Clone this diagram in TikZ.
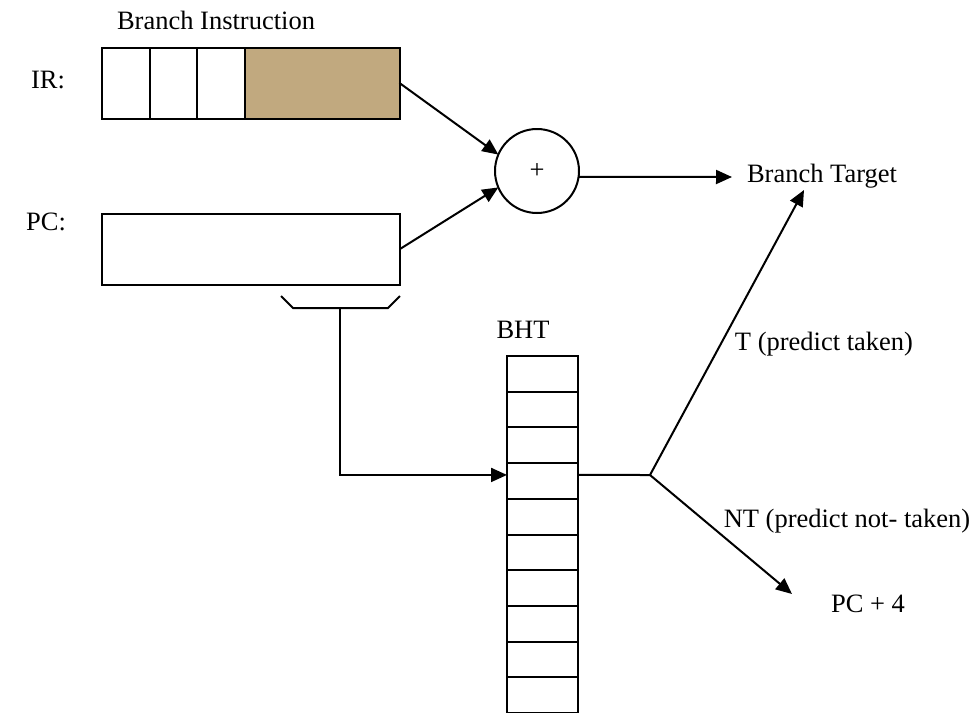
\documentclass[tikz,border=0pt]{standalone}
\usepackage{fontspec}
\setmainfont{Liberation Serif}
\usetikzlibrary{arrows.meta,positioning}
\definecolor{brtan}{HTML}{C1A97F}
\begin{document}
\begin{tikzpicture}[x=0.5pt,y=-0.5pt,inner sep=0pt,outer sep=0pt,line width=1pt,
font=\fontsize{13.25}{15}\selectfont,
>={Triangle[length=8pt,width=7pt]},
irfield/.style={draw,rectangle,minimum width=23.75pt,minimum height=35.5pt},
reg/.style={draw,rectangle,minimum width=149pt,minimum height=35.5pt},
bhtcell/.style={draw,rectangle,minimum width=35.5pt,minimum height=17.85pt}]
\useasboundingbox (0,0) rectangle (976,713);
% instruction register
\node[irfield] (ir1) at (125.75,83) {};
\node[irfield,right=0pt of ir1] (ir2) {};
\node[irfield,right=0pt of ir2] (ir3) {};
\node[irfield,fill=brtan,minimum width=77.5pt,right=0pt of ir3] (ir4) {};
\node (brinst) at (216,20) {Branch Instruction};
\node (irlbl) at (48,80) {IR:};
% program counter
\node[reg] (pc) at (251,249) {};
\node (pclbl) at (46,222) {PC:};
% adder
\node[draw,circle,minimum size=42pt] (sum) at (537,171) {+};
\draw[->] (ir4.east) -- (sum.157);
\draw[->] (pc.east) -- (sum.203);
\node (tgt) at (822,176) {Branch Target};
\coordinate (tgtin) at (732,177);
\draw[->] (sum.-8) -- (tgtin);
% branch history table
\foreach \i in {1,...,10}
  \node[bhtcell] (bht\i) at (542.5,{338.15+35.7*\i}) {};
\node (bhtlbl) at (523,330) {BHT};
\draw (281,296) -- (293,308) -- (388,308) -- (400,296);
\coordinate (idx) at (340,308);
\draw[->] (idx) |- ([yshift=3pt]bht4.west);
% prediction
\coordinate (split) at (650,475);
\coordinate (ttip) at (804,190);
\coordinate (nttip) at (792,594);
\draw ([yshift=3pt]bht4.east) -- (split);
\draw[->] (split) -- (ttip);
\draw[->] (split) -- (nttip);
\node (tlbl) at (824,344) {T (predict taken)};
\node (ntlbl) at (847,521) {NT (predict not- taken)};
\node (pc4) at (868,604) {PC + 4};
\end{tikzpicture}
\end{document}
